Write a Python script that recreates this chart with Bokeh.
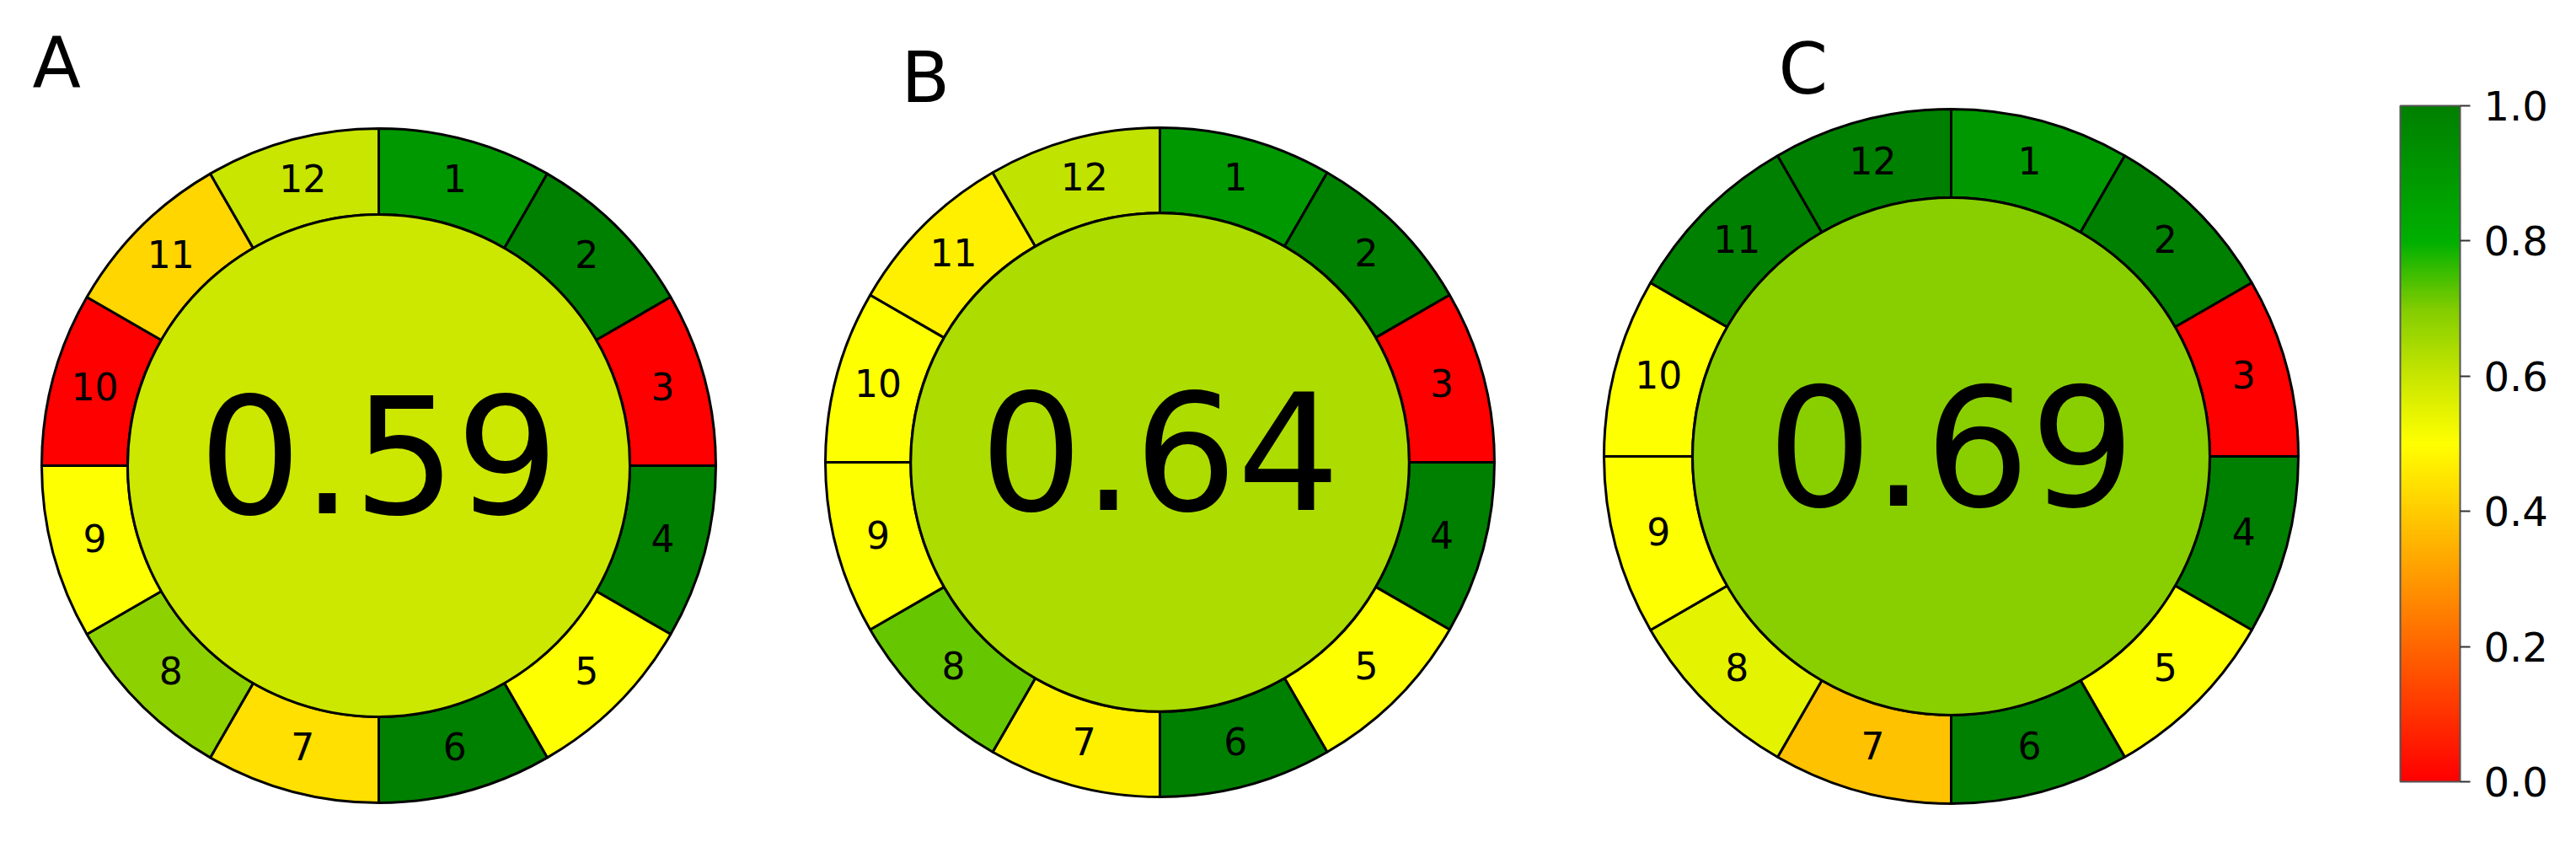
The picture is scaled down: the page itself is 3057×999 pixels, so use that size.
import numpy as np
from bokeh.plotting import figure
from bokeh.models import (ColumnDataSource, LinearColorMapper, ColorBar, Range1d,
                          FixedTicker, PrintfTickFormatter)
from bokeh.transform import transform
from bokeh.core.properties import value
from bokeh.embed import file_html
from bokeh.resources import INLINE

# ---------------- data ----------------
panels = ["A", "B", "C"]
overall_scores = [0.59, 0.64, 0.69]
criteria = ["1", "2", "3", "4", "5", "6", "7", "8", "9", "10", "11", "12"]
scores_A = [0.90, 1.00, 0.00, 1.00, 0.50, 1.00, 0.44, 0.68, 0.50, 0.00, 0.42, 0.60]
scores_B = [0.90, 1.00, 0.00, 1.00, 0.50, 1.00, 0.47, 0.72, 0.50, 0.50, 0.47, 0.61]
scores_C = [0.90, 1.00, 0.00, 1.00, 0.50, 1.00, 0.38, 0.55, 0.50, 0.50, 1.00, 1.00]
colorbar_ticks = [0.0, 0.2, 0.4, 0.6, 0.8, 1.0]
segment_scores = [scores_A, scores_B, scores_C]

# ---------------- colour map (red -> yellow -> green) ----------------
anchors = [(0.0, (255, 0, 0)), (0.5, (255, 255, 0)), (0.6, (200, 230, 0)),
           (0.7, (130, 205, 0)), (0.8, (0, 176, 0)), (1.0, (0, 128, 0))]
pos = [a[0] for a in anchors]
palette = []
for t in np.linspace(0, 1, 256):
    rgb = [int(round(np.interp(t, pos, [a[1][c] for a in anchors]))) for c in range(3)]
    palette.append("#%02x%02x%02x" % tuple(rgb))
mapper = LinearColorMapper(palette=palette, low=0.0, high=1.0)

# ---------------- layout ----------------
W, H = 3041, 983
FULL_H = 999
p = figure(width=W, height=H, x_range=Range1d(8, 8 + W),
           y_range=Range1d(FULL_H - 8 - H, FULL_H - 8),
           output_backend="svg", toolbar_location=None, min_border=0)
p.axis.visible = False
p.grid.visible = False
p.outline_line_color = None
p.background_fill_color = "white"

def Y(sy):
    return FULL_H - sy

# centre x, centre y (screen), outer radius
geom = [(457, 560, 400), (1384, 556, 397), (2323, 549, 412)]
title_pos = [(46, 82), (1077, 99), (2118, 89)]
centre_font = ["192px", "192px", "196px"]

k = np.arange(1, 13)
starts = np.deg2rad(90 - 30 * k)
ends = np.deg2rad(90 - 30 * (k - 1))
mids = (starts + ends) / 2

for i, name in enumerate(panels):
    cx, cy, R = geom[i]
    r = 0.745 * R
    src = ColumnDataSource(dict(start=starts, end=ends, score=segment_scores[i]))
    p.annular_wedge(x=cx, y=Y(cy), inner_radius=r, outer_radius=R,
                    start_angle="start", end_angle="end",
                    fill_color=transform("score", mapper), line_color="black",
                    line_width=3, source=src)
    csrc = ColumnDataSource(dict(x=[cx], y=[Y(cy)], score=[overall_scores[i]]))
    p.circle(x="x", y="y", radius=r, fill_color=transform("score", mapper),
             line_color="black", line_width=3, source=csrc)
    tsrc = ColumnDataSource(dict(x=[cx], y=[Y(cy - 14)],
                                 txt=["%.2f" % overall_scores[i]]))
    p.text(x="x", y="y", text="txt", source=tsrc, text_align="center",
           text_baseline="middle", text_font=value("DejaVu Sans"),
           text_font_size=centre_font[i], text_color="black")
    rl = (R + r) / 2
    lsrc = ColumnDataSource(dict(x=cx + rl * np.cos(mids),
                                 y=Y(cy - 4) + rl * np.sin(mids), t=criteria))
    p.text(x="x", y="y", text="t", source=lsrc, text_align="center",
           text_baseline="middle", text_font=value("DejaVu Sans"),
           text_font_size="44px", text_color="black")
    tx, ty = title_pos[i]
    p.text(x=[tx], y=[Y(ty)], text=[name], text_align="left",
           text_baseline="alphabetic", text_font=value("DejaVu Sans"),
           text_font_size="84px", text_color="black")

cb = ColorBar(color_mapper=mapper, ticker=FixedTicker(ticks=colorbar_ticks),
              formatter=PrintfTickFormatter(format="%.1f"),
              location=(2848, 56), width=71, height=802, padding=0, margin=0,
              orientation="vertical",
              bar_line_color="#555555", bar_line_width=2,
              major_tick_line_color="#333333", major_tick_line_width=2,
              major_tick_out=12, major_tick_in=0, minor_tick_line_color=None,
              label_standoff=16, major_label_text_font_size="48px",
              major_label_text_font="DejaVu Sans", major_label_text_color="black",
              background_fill_color=None, border_line_color=None)
p.add_layout(cb)

open("out.html", "w").write(file_html(p, INLINE))
